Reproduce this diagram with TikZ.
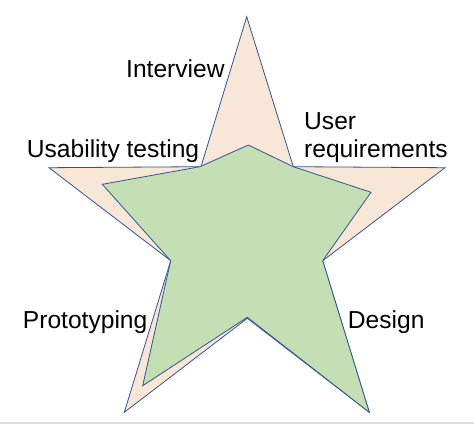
\documentclass[tikz,border=0pt]{standalone}
\usepackage{fontspec}
\setmainfont{Liberation Sans}
\definecolor{peach}{HTML}{F8E6D6}
\definecolor{leaf}{HTML}{C5DFB4}
\definecolor{edge}{HTML}{2F5597}
\begin{document}
\begin{tikzpicture}[x=1pt,y=-1pt,
  starshape/.style={draw=edge, line width=0.8pt, line join=miter},
  lbl/.style={font=\fontsize{24.6}{28}\selectfont, inner sep=0pt, text=black}]
\useasboundingbox (0,0) rectangle (474,424);
\fill[white] (0,0) rectangle (474,424);
\draw[gray!25, line width=1.2pt] (0,423) -- (474,423);
% outer star
\draw[starshape, fill=peach] (246.7,16.7) -- (293.3,166.7) -- (445,167.7) -- (322.7,260.7) -- (369.3,412.3) -- (247.3,318.3) -- (124.3,412.3) -- (170.7,260.7) -- (49,167.7) -- (201,166.7) -- cycle;
% inner star
\draw[starshape, fill=leaf] (248.3,145) -- (293.3,166.7) -- (371,192.3) -- (322.7,260.7) -- (369.3,412.3) -- (247.3,317.3) -- (142.7,385.7) -- (170.7,260.7) -- (102.3,184.3) -- (200,166.7) -- cycle;
% labels
\node[lbl, anchor=base west] (interview) at (126,77.7) {Interview};
\node[lbl, anchor=base west] (usability) at (26.7,157.3) {Usability testing};
\node[lbl, anchor=base west] (user) at (304,129.3) {User};
\node[lbl, anchor=base west] (req) at (304,157.3) {requirements};
\node[lbl, anchor=base west] (proto) at (22.7,328.7) {Prototyping};
\node[lbl, anchor=base west] (design) at (347.7,328.7) {Design};
\end{tikzpicture}
\end{document}
